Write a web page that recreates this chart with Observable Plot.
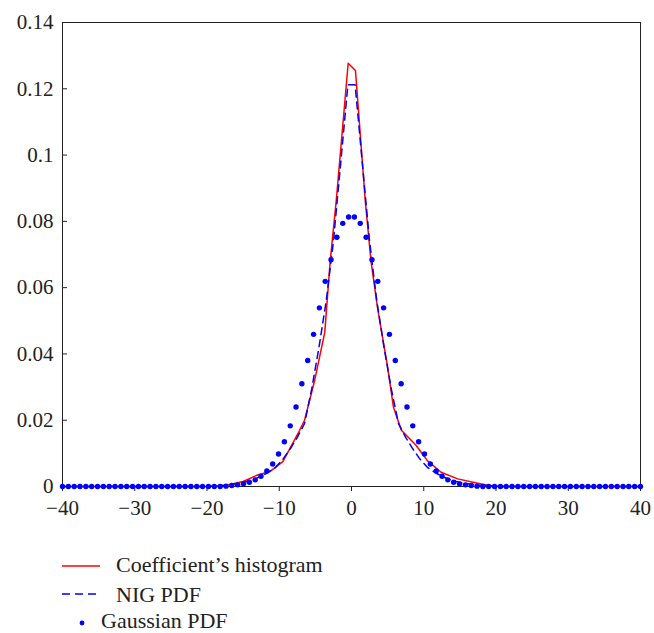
<!DOCTYPE html>
<html>
<head>
<meta charset="utf-8">
<script src="https://cdn.jsdelivr.net/npm/d3@7"></script>
<script src="https://cdn.jsdelivr.net/npm/@observablehq/plot@0.6"></script>
<style>
  html, body { margin: 0; padding: 0; background: #fff; }
  #chart { width: 654px; height: 633px; position: relative; overflow: hidden; }
  #legend { display: block; }
</style>
</head>
<body>
<div id="chart"></div>
<script>
// ---- data ----
const gaussX = [
  -40.00,-39.19,-38.38,-37.58,-36.77,-35.96,-35.15,-34.34,-33.54,-32.73,
  -31.92,-31.11,-30.30,-29.49,-28.69,-27.88,-27.07,-26.26,-25.45,-24.65,
  -23.84,-23.03,-22.22,-21.41,-20.61,-19.80,-18.99,-18.18,-17.37,-16.57,
  -15.76,-14.95,-14.14,-13.33,-12.53,-11.72,-10.91,-10.10,-9.29,-8.48,
  -7.68,-6.87,-6.06,-5.25,-4.44,-3.64,-2.83,-2.02,-1.21,-0.40,
  0.40,1.21,2.02,2.83,3.64,4.44,5.25,6.06,6.87,7.68,
  8.48,9.29,10.10,10.91,11.72,12.53,13.33,14.14,14.95,15.76,
  16.57,17.37,18.18,18.99,19.80,20.61,21.41,22.22,23.03,23.84,
  24.65,25.45,26.26,27.07,27.88,28.69,29.49,30.30,31.11,31.92,
  32.73,33.54,34.34,35.15,35.96,36.77,37.58,38.38,39.19,40.00
];
const gaussY = [
  0,0,0,0,0,0,0,0,0,0,
  0,0,0,0,0,0,0,0,0,0,
  0,0,0,0,0,0,0,0,0.0001,0.0003,
  0.0005,0.0008,0.0013,0.0020,0.0031,0.0047,0.0068,0.0098,0.0135,0.0183,
  0.0240,0.0310,0.0380,0.0459,0.0539,0.0619,0.0684,0.0752,0.0794,0.0813,
  0.0813,0.0794,0.0752,0.0684,0.0619,0.0539,0.0459,0.0380,0.0310,0.0240,
  0.0183,0.0135,0.0098,0.0068,0.0047,0.0031,0.0020,0.0013,0.0008,0.0005,
  0.0003,0.0001,0,0,0,0,0,0,0,0,
  0,0,0,0,0,0,0,0,0,0,
  0,0,0,0,0,0,0,0,0,0
];
const histX = [-40,-21,-19,-17.3,-15,-13.2,-11.3,-9.5,-7.4,-6.5,-5.1,-3.7,-2.95,-2.1,-0.46,
               0.55,1.9,2.7,3.6,5.0,5.8,6.9,8.9,10.5,12.4,14.7,17,19,21,40];
const histY = [0,0,0.0001,0.0004,0.0015,0.0033,0.0045,0.0075,0.0160,0.0200,0.0320,0.0465,0.0680,0.0865,0.1277,
               0.1255,0.0863,0.0680,0.0540,0.0360,0.0240,0.0170,0.0125,0.0078,0.0043,0.0023,0.0012,0.0003,0,0];
const nigX = [-40,-20.5,-19.5,-18.5,-17.5,-16.5,-15.5,-14.5,-13.5,-12.5,-11.5,-10.5,-9.5,-8.5,-7.5,-6.5,-5.5,-4.5,-3.5,-2.5,-1.5,-0.5,
              0.5,1.5,2.5,3.5,4.5,5.5,6.5,7.5,8.5,9.5,10.5,11.5,12.5,13.5,14.5,15.5,16.5,17.5,18.5,19.5,20.5,40];
const nigY = [0,0,0.0001,0.0002,0.0004,0.0007,0.0010,0.0015,0.0022,0.0031,0.0043,0.0058,0.0082,0.0113,0.0148,0.0190,0.0295,0.0420,0.0560,0.0740,0.0975,0.1212,
              0.1212,0.0975,0.0740,0.0560,0.0420,0.0295,0.0190,0.0148,0.0113,0.0082,0.0058,0.0043,0.0031,0.0022,0.0015,0.0010,0.0007,0.0004,0.0002,0.0001,0,0];
const xTicks = [-40,-30,-20,-10,0,10,20,30,40];
const yTicks = [0,0.02,0.04,0.06,0.08,0.1,0.12,0.14];
const seriesNames = ["Coefficient\u2019s histogram", "NIG PDF", "Gaussian PDF"];
const seriesColors = ["#ff0000", "#0000ff", "#0000ff"];

// ---- tables ----
const hist = histX.map((x, i) => ({x, y: histY[i]}));
const nig = nigX.map((x, i) => ({x, y: nigY[i]}));
const gauss = gaussX.map((x, i) => ({x, y: gaussY[i]}));

const fmtX = d => d < 0 ? "\u2212" + Math.abs(d) : String(d);

const plot = Plot.plot({
  width: 654,
  height: 525,
  marginLeft: 62,
  marginRight: 14,
  marginTop: 22,
  marginBottom: 39,
  style: {fontFamily: "'Liberation Serif', 'DejaVu Serif', serif", fontSize: "21px", color: "#222", background: "#fff"},
  x: {domain: [-40, 40]},
  y: {domain: [0, 0.14]},
  marks: [
    Plot.frame({stroke: "#222", strokeWidth: 1}),
    Plot.axisX({ticks: xTicks, tickFormat: fmtX, tickSize: -5, tickPadding: 14, dy: 5, stroke: "#222", strokeWidth: 1, label: null, fontSize: 21}),
    Plot.axisY({ticks: yTicks, tickFormat: d => String(d), tickSize: -5, tickPadding: 14, stroke: "#222", strokeWidth: 1, label: null, fontSize: 21}),
    Plot.line(hist, {x: "x", y: "y", stroke: seriesColors[0], strokeWidth: 1.5}),
    Plot.line(nig, {x: "x", y: "y", stroke: seriesColors[1], strokeWidth: 1.5, strokeDasharray: "7,5"}),
    Plot.dot(gauss, {x: "x", y: "y", r: 2.7, fill: seriesColors[2], stroke: "none"})
  ]
});

const chart = document.getElementById("chart");
chart.appendChild(plot);

// ---- legend below the plot ----
const ns = "http://www.w3.org/2000/svg";
const leg = document.createElementNS(ns, "svg");
leg.setAttribute("id", "legend");
leg.setAttribute("width", 654);
leg.setAttribute("height", 108);
leg.style.fontFamily = "'Liberation Serif', 'DejaVu Serif', serif";
const items = [
  {kind: "line", ly: 41, ty: 47, tx: 116},
  {kind: "dash", ly: 69, ty: 77, tx: 116},
  {kind: "dot", ly: 98, ty: 103, tx: 101}
];
items.forEach((it, i) => {
  if (it.kind === "dot") {
    const c = document.createElementNS(ns, "circle");
    c.setAttribute("cx", 82); c.setAttribute("cy", it.ly); c.setAttribute("r", 2.4);
    c.setAttribute("fill", seriesColors[i]);
    leg.appendChild(c);
  } else {
    const l = document.createElementNS(ns, "line");
    l.setAttribute("x1", 62); l.setAttribute("x2", 100);
    l.setAttribute("y1", it.ly); l.setAttribute("y2", it.ly);
    l.setAttribute("stroke", seriesColors[i]);
    l.setAttribute("stroke-width", 1.5);
    if (it.kind === "dash") l.setAttribute("stroke-dasharray", "8,5");
    leg.appendChild(l);
  }
  const t = document.createElementNS(ns, "text");
  t.setAttribute("x", it.tx); t.setAttribute("y", it.ty);
  t.setAttribute("font-size", 22);
  t.setAttribute("fill", "#222");
  t.textContent = seriesNames[i];
  leg.appendChild(t);
});
chart.appendChild(leg);
</script>
</body>
</html>
